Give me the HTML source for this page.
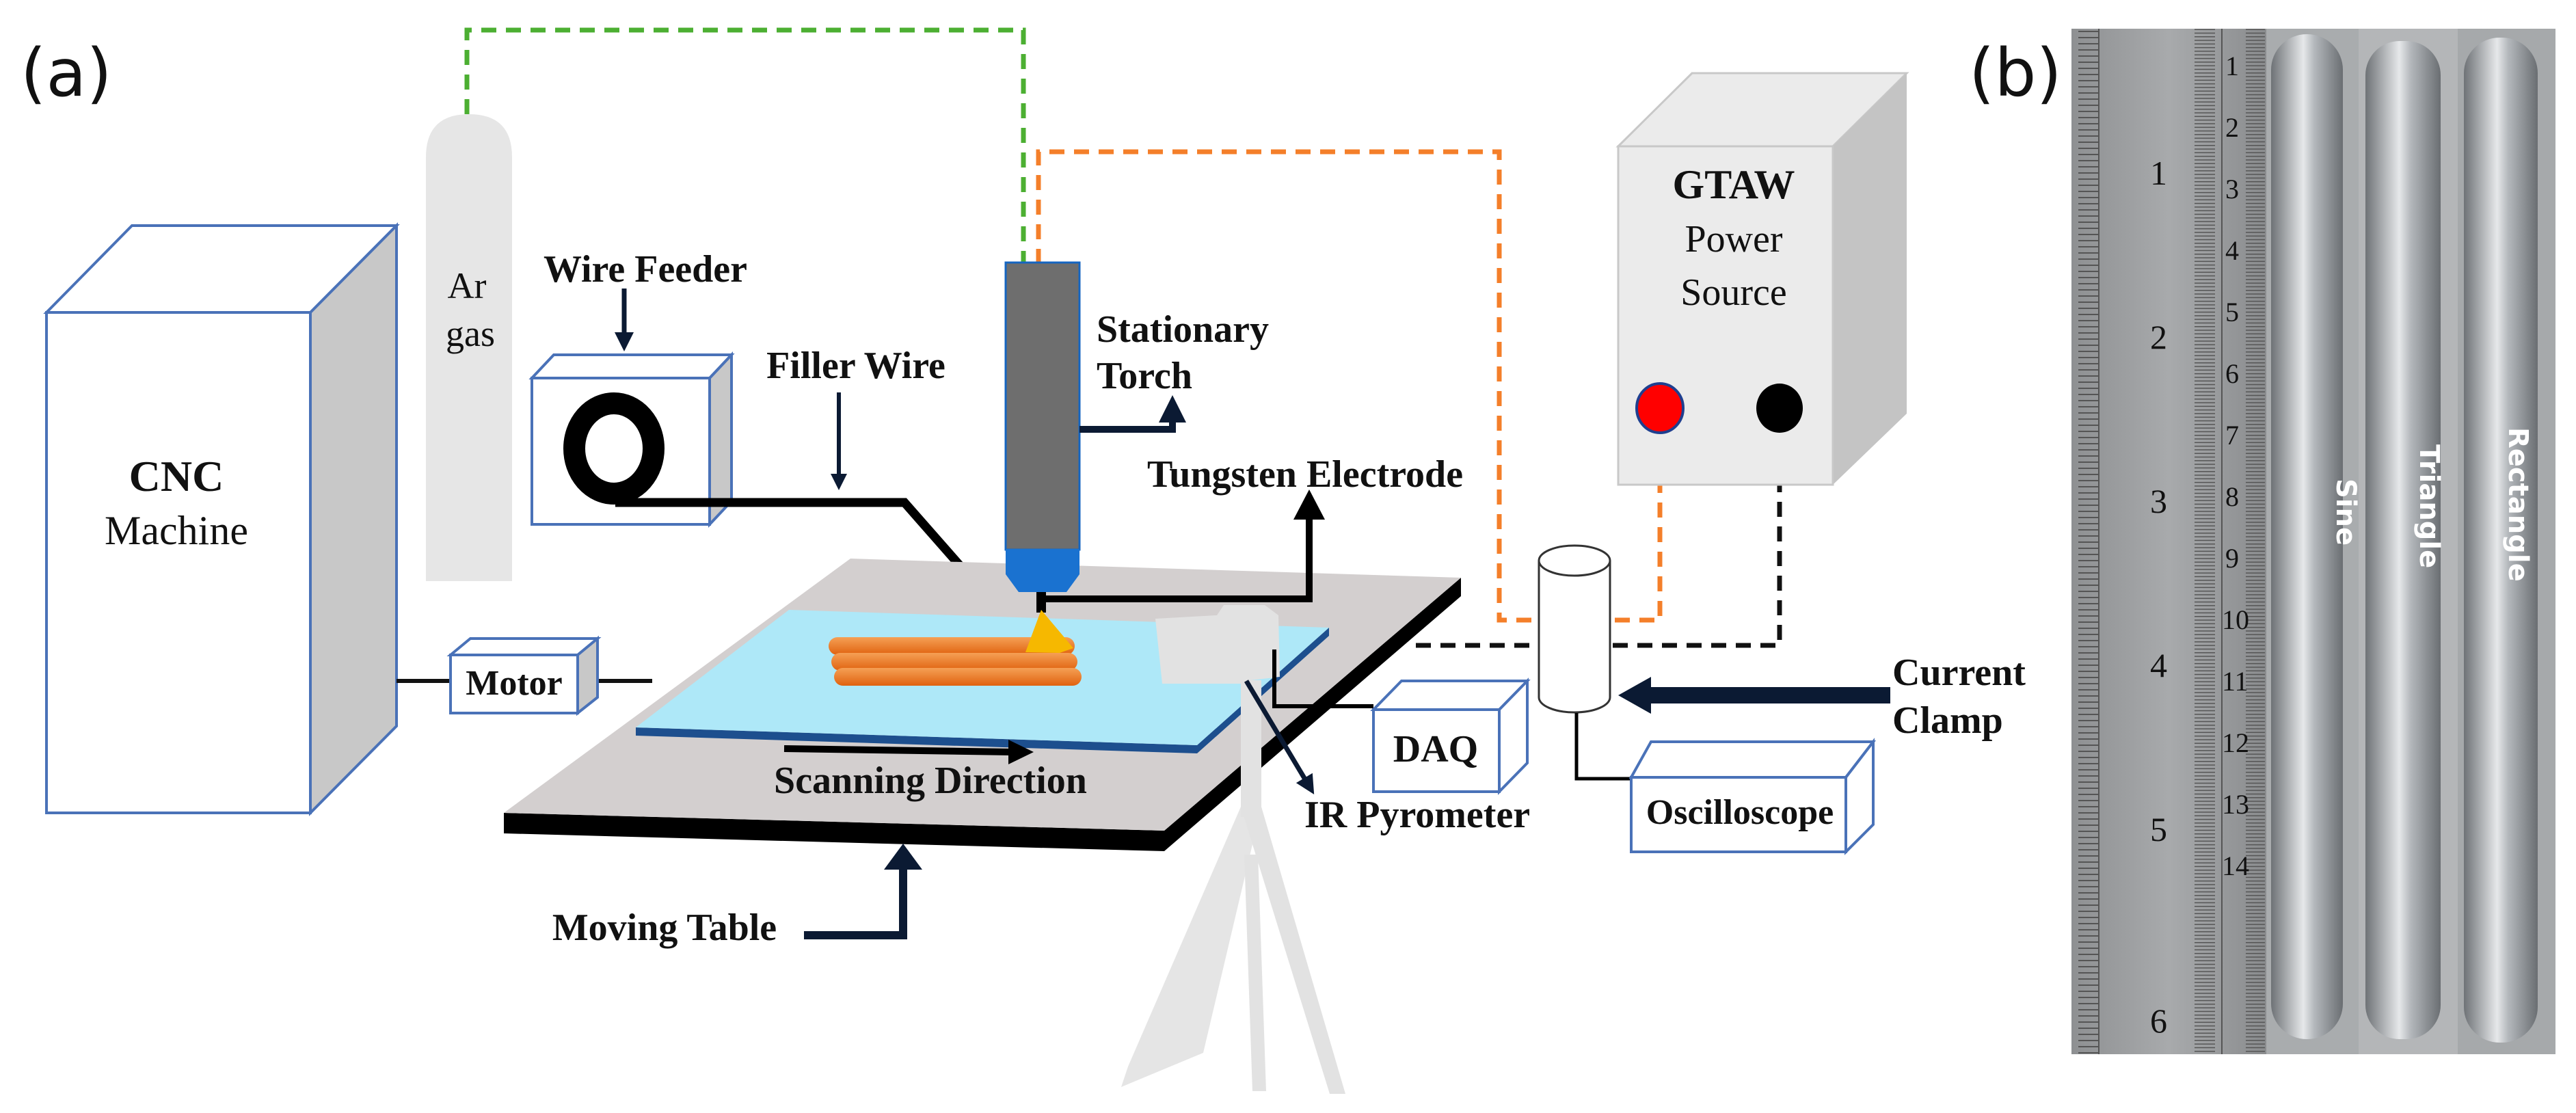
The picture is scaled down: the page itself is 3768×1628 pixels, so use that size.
<!DOCTYPE html>
<html><head><meta charset="utf-8"><style>
html,body{margin:0;padding:0;background:#fff;}
svg{display:block;}
.t{font-family:"Liberation Serif",serif;font-weight:bold;fill:#111;}
.n{font-family:"Liberation Serif",serif;fill:#111;}
</style></head><body>
<svg width="3768" height="1628" viewBox="0 0 3768 1628" xmlns="http://www.w3.org/2000/svg">
<defs>
<marker id="ah" markerWidth="4" markerHeight="4" refX="2" refY="2" orient="auto" markerUnits="strokeWidth"><path d="M0,0 L4,2 L0,4 Z" fill="#0b1a33"/></marker>
<linearGradient id="rul" x1="0" x2="1"><stop offset="0" stop-color="#8e9092"/><stop offset="0.5" stop-color="#a8aaac"/><stop offset="1" stop-color="#8a8c8e"/></linearGradient>
<linearGradient id="bead" x1="0" x2="1"><stop offset="0" stop-color="#6e7276"/><stop offset="0.45" stop-color="#e6e8ea"/><stop offset="0.6" stop-color="#b4b8bc"/><stop offset="1" stop-color="#6a6e72"/></linearGradient>
<linearGradient id="or" x1="0" y1="0" x2="0" y2="1"><stop offset="0" stop-color="#f5a055"/><stop offset="1" stop-color="#e0620f"/></linearGradient>
<pattern id="tk1" width="20" height="9" patternUnits="userSpaceOnUse"><rect x="0" y="0" width="20" height="2" fill="#555"/></pattern>
<pattern id="tk2" width="30" height="5.3" patternUnits="userSpaceOnUse"><rect x="0" y="0" width="30" height="1.5" fill="#555"/></pattern>
</defs>
<text x="30" y="140" font-family="DejaVu Sans, sans-serif" font-size="96" fill="#111">(a)</text>
<text x="2880" y="140" font-family="DejaVu Sans, sans-serif" font-size="96" fill="#111">(b)</text>

<path d="M683,167 L683,44 L1497,44 L1497,386" fill="none" stroke="#4caf32" stroke-width="7" stroke-dasharray="22,14"/>
<path d="M1519,386 L1519,222 L2193,222 L2193,907 L2428,907 L2428,630" fill="none" stroke="#f47f2a" stroke-width="7" stroke-dasharray="22,14"/>

<path d="M623,850 L623,230 Q623,167 686,167 Q749,167 749,230 L749,850 Z" fill="#e6e6e6"/>
<text class="n" x="683" y="436" font-size="54" text-anchor="middle">Ar</text>
<text class="n" x="688" y="506" font-size="54" text-anchor="middle">gas</text>

<path d="M68,457 L193,330 L580,330 L454,457 Z" fill="#fff" stroke="#4a72b8" stroke-width="4"/>
<path d="M454,457 L580,330 L580,1062 L454,1189 Z" fill="#c8c8c8" stroke="#4a72b8" stroke-width="4"/>
<rect x="68" y="457" width="386" height="732" fill="#fff" stroke="#4a72b8" stroke-width="4"/>
<text class="t" x="258" y="718" font-size="64" text-anchor="middle">CNC</text>
<text class="n" x="258" y="796" font-size="60" text-anchor="middle">Machine</text>
<line x1="580" y1="996" x2="659" y2="996" stroke="#111" stroke-width="6"/>
<line x1="874" y1="996" x2="954" y2="996" stroke="#111" stroke-width="6"/>

<path d="M659,958 L688,934 L874,934 L845,958 Z" fill="#fff" stroke="#4a72b8" stroke-width="4"/>
<path d="M845,958 L874,934 L874,1020 L845,1043 Z" fill="#c8c8c8" stroke="#4a72b8" stroke-width="4"/>
<rect x="659" y="958" width="186" height="85" fill="#fff" stroke="#4a72b8" stroke-width="4"/>
<text class="t" x="752" y="1016" font-size="52" text-anchor="middle">Motor</text>

<text class="t" x="944" y="412" font-size="56" text-anchor="middle">Wire Feeder</text>
<line x1="913" y1="422" x2="913" y2="500" stroke="#0b1a33" stroke-width="7" marker-end="url(#ah)"/>
<path d="M778,553 L810,519 L1070,519 L1038,553 Z" fill="#fff" stroke="#4a72b8" stroke-width="4"/>
<path d="M1038,553 L1070,519 L1070,733 L1038,767 Z" fill="#c8c8c8" stroke="#4a72b8" stroke-width="4"/>
<rect x="778" y="553" width="260" height="214" fill="#fff" stroke="#4a72b8" stroke-width="4"/>
<ellipse cx="898" cy="656" rx="58" ry="66" fill="none" stroke="#000" stroke-width="32"/>
<path d="M900,735 L1323,735 L1490,925" fill="none" stroke="#000" stroke-width="13"/>
<text class="t" x="1252" y="553" font-size="56" text-anchor="middle">Filler Wire</text>
<line x1="1227" y1="574" x2="1227" y2="705" stroke="#0b1a33" stroke-width="6" marker-end="url(#ah)"/>

<path d="M737,1189 L1703,1215 L1703,1245 L737,1219 Z" fill="#000"/>
<path d="M1703,1215 L2137,845 L2137,872 L1703,1245 Z" fill="#000"/>
<path d="M1244,817 L2137,845 L1703,1215 L737,1189 Z" fill="#d3cfcf"/>
<path d="M930,1064 L1751,1090 L1751,1102 L930,1076 Z" fill="#1d4f8e"/>
<path d="M1751,1090 L1944,918 L1944,930 L1751,1102 Z" fill="#1d4f8e"/>
<path d="M1154,892 L1944,918 L1751,1090 L930,1064 Z" fill="#aee8f8"/>
<rect x="1212" y="932" width="360" height="26" rx="13" fill="url(#or)"/>
<rect x="1216" y="955" width="360" height="26" rx="13" fill="url(#or)"/>
<rect x="1220" y="977" width="362" height="26" rx="13" fill="url(#or)"/>
<rect x="1471" y="384" width="108" height="420" fill="#6e6e6e" stroke="#1565c0" stroke-width="3"/>
<path d="M1471,803 L1579,803 L1579,840 L1560,866 L1490,866 L1471,840 Z" fill="#1a72d0"/>
<rect x="1516" y="866" width="14" height="30" fill="#000"/>
<path d="M1523,892 L1570,948 L1550,955 L1500,954 Z" fill="#f6b800"/>
<text class="t" x="1604" y="500" font-size="56">Stationary</text>
<text class="t" x="1604" y="568" font-size="56">Torch</text>
<path d="M1579,628 L1715,628 L1715,598" fill="none" stroke="#0b1a33" stroke-width="10" marker-end="url(#ah)"/>
<path d="M1530,876 L1915,876 L1915,745" fill="none" stroke="#000" stroke-width="10"/>
<path d="M1915,716 L1938,760 L1892,760 Z" fill="#000"/>
<text class="t" x="1678" y="712" font-size="56">Tungsten Electrode</text>

<line x1="1147" y1="1095" x2="1480" y2="1100" stroke="#000" stroke-width="10"/>
<path d="M1512,1100 L1475,1082 L1475,1118 Z" fill="#000"/>
<text class="t" x="1361" y="1160" font-size="56" text-anchor="middle">Scanning Direction</text>

<text class="t" x="972" y="1375" font-size="56" text-anchor="middle">Moving Table</text>
<path d="M1176,1368 L1321,1368 L1321,1270" fill="none" stroke="#0b1a33" stroke-width="12"/>
<path d="M1321,1234 L1349,1272 L1293,1272 Z" fill="#0b1a33"/>

<g fill="#e2e2e2">
<path d="M1690,905 L1780,900 L1790,885 L1850,885 L1870,900 L1872,990 L1830,995 L1820,1000 L1700,1000 Z"/>
<rect x="1815" y="995" width="30" height="200"/>
<path d="M1815,1180 L1845,1180 L1760,1540 L1640,1590 L1650,1560 Z" opacity="0.9"/>
<path d="M1815,1180 L1845,1180 L1968,1600 L1945,1600 Z"/>
<path d="M1820,1250 L1840,1250 L1852,1596 L1832,1596 Z"/>
</g>
<path d="M1864,950 L1864,1033 L2009,1033" fill="none" stroke="#000" stroke-width="6"/>
<line x1="1823" y1="996" x2="1915" y2="1150" stroke="#0b1a33" stroke-width="7" marker-end="url(#ah)"/>
<text class="t" x="1908" y="1210" font-size="56">IR Pyrometer</text>

<path d="M2009,1038 L2050,996 L2234,996 L2193,1038 Z" fill="#fff" stroke="#4a72b8" stroke-width="4"/>
<path d="M2193,1038 L2234,996 L2234,1116 L2193,1158 Z" fill="#fff" stroke="#4a72b8" stroke-width="4"/>
<rect x="2009" y="1038" width="184" height="120" fill="#fff" stroke="#4a72b8" stroke-width="4"/>
<text class="t" x="2100" y="1114" font-size="56" text-anchor="middle">DAQ</text>

<path d="M2603,626 L2603,944 L2065,944" fill="none" stroke="#111" stroke-width="7" stroke-dasharray="22,14"/>

<path d="M2367,214 L2475,107 L2789,107 L2681,214 Z" fill="#ebebeb" stroke="#c8c8c8" stroke-width="3"/>
<path d="M2681,214 L2789,107 L2789,605 L2681,709 Z" fill="#c4c4c4"/>
<rect x="2367" y="214" width="314" height="495" fill="#ebebeb" stroke="#c8c8c8" stroke-width="3"/>
<text class="t" x="2536" y="290" font-size="60" text-anchor="middle">GTAW</text>
<text class="n" x="2536" y="368" font-size="56" text-anchor="middle">Power</text>
<text class="n" x="2536" y="446" font-size="56" text-anchor="middle">Source</text>
<ellipse cx="2428" cy="597" rx="34" ry="36" fill="#ff0000" stroke="#1f3f8f" stroke-width="4"/>
<ellipse cx="2603" cy="597" rx="34" ry="36" fill="#000"/>

<path d="M2251,820 L2251,1020 A52,22 0 0 0 2355,1020 L2355,820" fill="#fff" stroke="#333" stroke-width="3"/>
<ellipse cx="2303" cy="820" rx="52" ry="22" fill="#fff" stroke="#333" stroke-width="3"/>
<path d="M2306,1043 L2306,1139 L2386,1139" fill="none" stroke="#000" stroke-width="5"/>
<line x1="2765" y1="1017" x2="2410" y2="1017" stroke="#0b1a33" stroke-width="24"/>
<path d="M2367,1017 L2415,990 L2415,1044 Z" fill="#0b1a33"/>
<text class="t" x="2768" y="1002" font-size="56">Current</text>
<text class="t" x="2768" y="1072" font-size="56">Clamp</text>

<path d="M2386,1137 L2415,1085 L2740,1085 L2700,1137 Z" fill="#fff" stroke="#4a72b8" stroke-width="4"/>
<path d="M2700,1137 L2740,1085 L2740,1206 L2700,1246 Z" fill="#fff" stroke="#4a72b8" stroke-width="4"/>
<rect x="2386" y="1137" width="314" height="109" fill="#fff" stroke="#4a72b8" stroke-width="4"/>
<text class="t" x="2545" y="1205" font-size="52" text-anchor="middle">Oscilloscope</text>

<rect x="3030" y="42" width="708" height="1500" fill="#9c9fa2"/>
<rect x="3030" y="42" width="285" height="1500" fill="url(#rul)"/>
<rect x="3040" y="42" width="30" height="1500" fill="url(#tk1)"/>
<rect x="3210" y="42" width="30" height="1500" fill="url(#tk2)"/>
<rect x="3285" y="42" width="28" height="1500" fill="url(#tk2)"/>
<g stroke="#555" stroke-width="2">
<line x1="3070" y1="42" x2="3070" y2="1542"/><line x1="3250" y1="42" x2="3250" y2="1542"/>
</g>
<g class="n" font-size="40" fill="#333">
<text x="3255" y="110">1</text><text x="3255" y="200">2</text><text x="3255" y="290">3</text><text x="3255" y="380">4</text><text x="3255" y="470">5</text><text x="3255" y="560">6</text><text x="3255" y="650">7</text><text x="3255" y="740">8</text><text x="3255" y="830">9</text><text x="3250" y="920">10</text><text x="3250" y="1010">11</text><text x="3250" y="1100">12</text><text x="3250" y="1190">13</text><text x="3250" y="1280">14</text>
<text x="3145" y="270" font-size="50">1</text><text x="3145" y="510" font-size="50">2</text><text x="3145" y="750" font-size="50">3</text><text x="3145" y="990" font-size="50">4</text><text x="3145" y="1230" font-size="50">5</text><text x="3145" y="1510" font-size="50">6</text>
</g>
<rect x="3315" y="42" width="135" height="1500" fill="#a9acae"/>
<rect x="3450" y="42" width="145" height="1500" fill="#b4b6b8"/>
<rect x="3595" y="42" width="143" height="1500" fill="#a6a9ab"/>
<rect x="3322" y="50" width="105" height="1470" rx="52" fill="url(#bead)"/>
<rect x="3460" y="60" width="110" height="1460" rx="50" fill="url(#bead)"/>
<rect x="3604" y="55" width="108" height="1470" rx="52" fill="url(#bead)"/>
<g font-family="DejaVu Sans, sans-serif" font-weight="bold" font-size="40" fill="#fff">
<text transform="translate(3418,700) rotate(90)">Sine</text>
<text transform="translate(3540,650) rotate(90)">Triangle</text>
<text transform="translate(3670,625) rotate(90)">Rectangle</text>
</g>
</svg>
</body></html>
